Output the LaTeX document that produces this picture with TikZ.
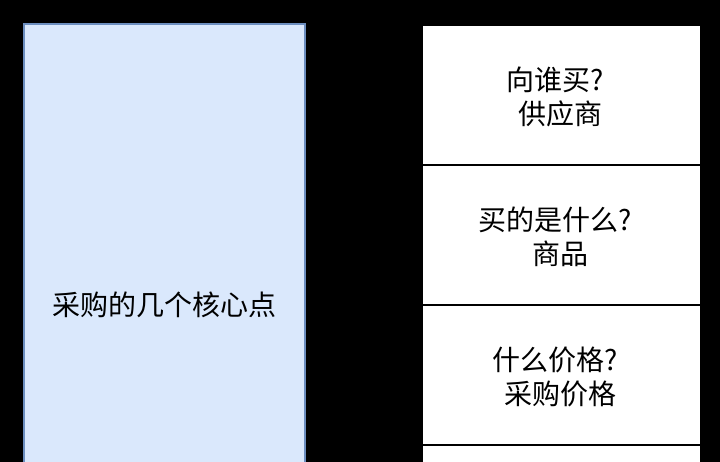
\documentclass[tikz,border=0pt]{standalone}
\usepackage{fontspec}
\setmainfont{Noto Sans CJK SC}
\definecolor{bluefill}{HTML}{DAE8FC}
\definecolor{bluestroke}{HTML}{6C8EBF}
\tikzset{
  corebox/.style={draw=bluestroke, fill=bluefill, line width=1.5bp, minimum width=281bp, minimum height=562bp, inner sep=0pt, font=\fontsize{28bp}{34bp}\selectfont},
  qbox/.style={draw=black, fill=white, line width=1.6bp, minimum width=278bp, minimum height=140bp, inner sep=0pt},
  qtext/.style={align=center, inner sep=0pt, font=\fontsize{28bp}{34bp}\selectfont},
}
\newcommand{\ind}{\hspace*{0.35em}}
\begin{document}
\begin{tikzpicture}[x=1bp, y=-1bp]
  \fill[black] (0,0) rectangle (720,462);
  \useasboundingbox (0,0) rectangle (720,462);
  \clip (0,0) rectangle (720,462);
  \node[corebox] (core) at (164.5,305) {采购的几个核心点};
  \node[qbox] (q1) at (561.5,95) {};
  \node[qbox] (q2) at (561.5,235) {};
  \node[qbox] (q3) at (561.5,375) {};
  \node[qbox] (q4) at (561.5,515) {};
  \node[qtext] (t1) at ([xshift=-6bp,yshift=-2bp]q1.center) {向谁买?\\\ind 供应商};
  \node[qtext] (t2) at ([xshift=-6bp,yshift=-2bp]q2.center) {买的是什么?\\\ind 商品};
  \node[qtext] (t3) at ([xshift=-6bp,yshift=-2bp]q3.center) {什么价格?\\\ind 采购价格};
\end{tikzpicture}
\end{document}
